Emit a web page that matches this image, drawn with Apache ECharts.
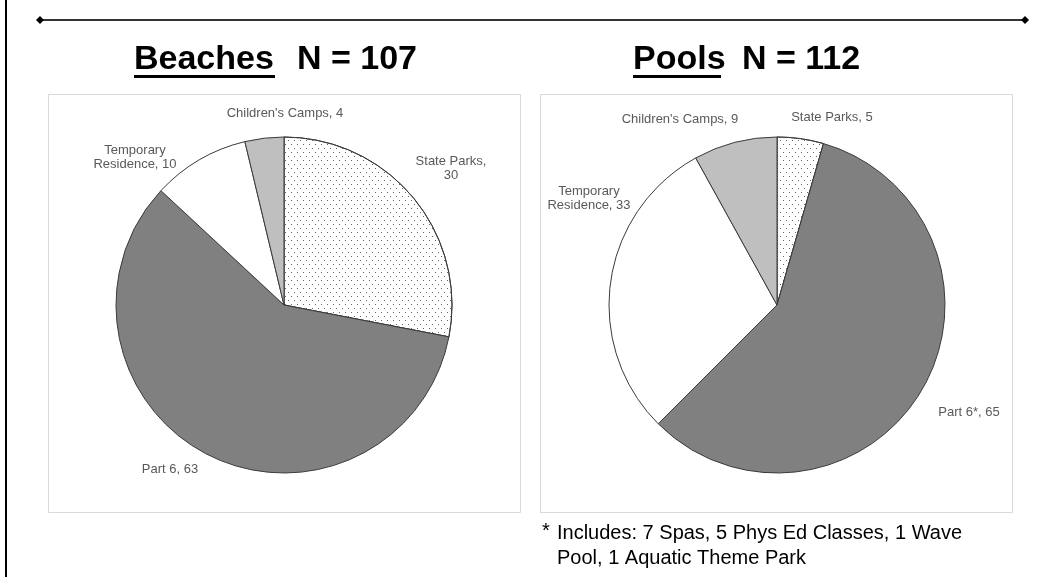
<!DOCTYPE html>
<html lang="en">
<head>
    <meta charset="UTF-8">
    <title>Beaches and Pools</title>
    <script src="https://cdn.jsdelivr.net/npm/echarts@6/dist/echarts.min.js"></script>
    <style>
        html, body { margin: 0; padding: 0; background: #fff; }
        #chart { width: 1044px; height: 577px; }
    </style>
</head>
<body>
<div id="chart"></div>
<script type="application/javascript">
    // slice order is clockwise from 12 o'clock
    var categories = ['State Parks', 'Part 6', 'Temporary Residence', "Children's Camps"];
    var beachValues = [30, 63, 10, 4];
    var poolValues = [5, 65, 33, 9];
    var beachLabels = ['State Parks,\n30', 'Part 6, 63', 'Temporary\nResidence, 10', "Children's Camps, 4"];
    var poolLabels = ['State Parks, 5', 'Part 6*, 65', 'Temporary\nResidence, 33', "Children's Camps, 9"];
    var footnote = ['Includes: 7 Spas, 5 Phys Ed Classes, 1 Wave', 'Pool, 1 Aquatic Theme Park'];

    var sliceColors = ['#ffffff', '#808080', '#ffffff', '#bfbfbf'];
    var dots = {
        symbol: 'rect',
        symbolSize: 1,
        color: '#666666',
        dashArrayX: [[1, 5], [0, 3, 1, 2]],
        dashArrayY: [1, 3],
        rotation: 0
    };

    var pieCenters = [[284, 305], [777, 305]];
    // where each label sits, measured from its pie's centre (like Excel's best fit)
    var labelNudge = [
        [[167, -137], [-114, 164], [-149, -148], [1, -192]],
        [[55, -188], [192, 107], [-188, -107], [-97, -186]]
    ];

    function buildData(values, labels) {
        return values.map(function (v, i) {
            var item = {
                name: categories[i],
                value: v,
                labelText: labels[i],
                itemStyle: {color: sliceColors[i]}
            };
            if (i === 0) item.itemStyle.decal = dots;
            return item;
        });
    }

    function pieSeries(values, labels, idx) {
        return {
            type: 'pie',
            center: pieCenters[idx],
            radius: 168,
            startAngle: 90,
            clockwise: true,
            silent: true,
            data: buildData(values, labels),
            itemStyle: {borderColor: '#3a3a3a', borderWidth: 1},
            label: {
                position: 'outside',
                color: '#595959',
                fontFamily: 'Liberation Sans, Arial, sans-serif',
                fontSize: 13,
                lineHeight: 14,
                align: 'center',
                formatter: function (p) { return p.data.labelText; }
            },
            labelLine: {show: false},
            labelLayout: function (p) {
                var c = pieCenters[p.seriesIndex];
                var d = labelNudge[p.seriesIndex][p.dataIndex];
                return {x: c[0] + d[0], y: c[1] + d[1], align: 'center', verticalAlign: 'middle'};
            },
            emphasis: {disabled: true}
        };
    }

    var chart = echarts.init(document.getElementById('chart'));
    var titleFont = 'bold 34px "Liberation Sans", Arial, sans-serif';
    var noteFont = '20px "Liberation Sans", Arial, sans-serif';
    var option = {
        animation: false,
        graphic: [
            // page frame and divider
            {type: 'rect', shape: {x: 5, y: 0, width: 2, height: 577}, style: {fill: '#000'}},
            {type: 'line', shape: {x1: 40, y1: 20, x2: 1025, y2: 20}, style: {stroke: '#333', lineWidth: 2}},
            {type: 'polygon', shape: {points: [[36, 20], [40, 16], [44, 20], [40, 24]]}, style: {fill: '#000'}},
            {type: 'polygon', shape: {points: [[1021, 20], [1025, 16], [1029, 20], [1025, 24]]}, style: {fill: '#000'}},
            // plot boxes
            {type: 'rect', shape: {x: 48.5, y: 94.5, width: 472, height: 418}, style: {fill: 'none', stroke: '#d9d9d9', lineWidth: 1}},
            {type: 'rect', shape: {x: 540.5, y: 94.5, width: 472, height: 418}, style: {fill: 'none', stroke: '#d9d9d9', lineWidth: 1}},
            // titles
            {type: 'text', x: 134, y: 43, style: {text: 'Beaches', font: titleFont, fill: '#000'}},
            {type: 'rect', shape: {x: 134, y: 75, width: 141, height: 3}, style: {fill: '#000'}},
            {type: 'text', x: 297, y: 43, style: {text: 'N = 107', font: titleFont, fill: '#000'}},
            {type: 'text', x: 633, y: 43, style: {text: 'Pools', font: titleFont, fill: '#000'}},
            {type: 'rect', shape: {x: 633, y: 75, width: 88, height: 3}, style: {fill: '#000'}},
            {type: 'text', x: 742, y: 43, style: {text: 'N = 112', font: titleFont, fill: '#000'}},
            // footnote
            {type: 'text', x: 542, y: 521, style: {text: '*', font: noteFont, fill: '#000'}},
            {type: 'text', x: 557, y: 521, style: {text: footnote.join('\n'), font: noteFont, lineHeight: 25, fill: '#000'}}
        ],
        series: [
            pieSeries(beachValues, beachLabels, 0),
            pieSeries(poolValues, poolLabels, 1)
        ]
    };
    chart.setOption(option);
</script>
</body>
</html>
